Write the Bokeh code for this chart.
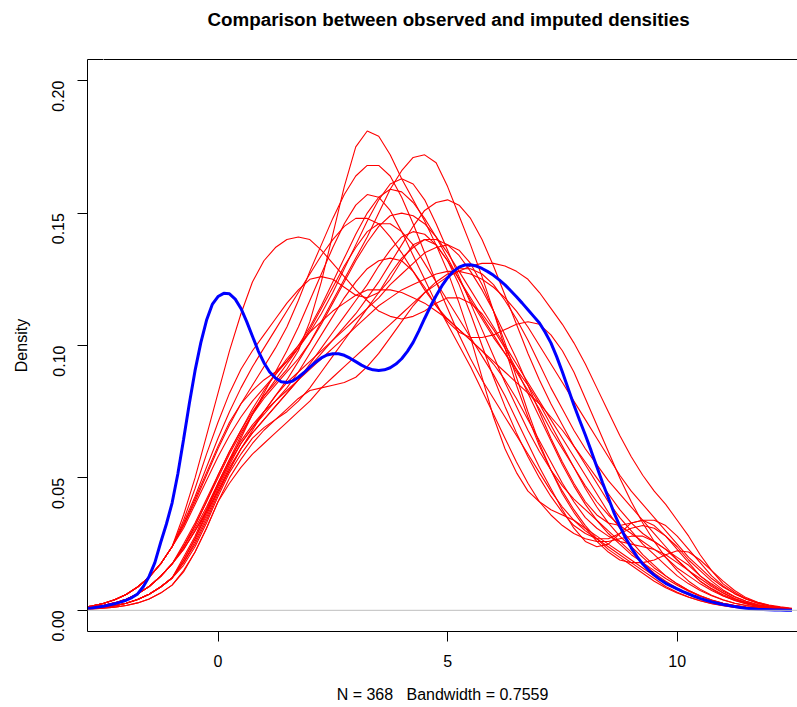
import math
from bokeh.plotting import figure
from bokeh.models import (ColumnDataSource, Span, FixedTicker, LinearAxis,
                          PrintfTickFormatter)
from bokeh.embed import file_html
from bokeh.resources import INLINE

# ---------------- data ----------------
obs_x = [round(-3 + 0.125 * i, 3) for i in range(125)]          # -3 ... 12.5
observed = [0.0005, 0.0007, 0.0009, 0.0012, 0.0015, 0.0020, 0.0025, 0.0031, 0.0038, 0.0048,
            0.0062, 0.0090, 0.0128, 0.0180, 0.0255, 0.0325, 0.0405, 0.0515, 0.0645, 0.0780,
            0.0905, 0.1010, 0.1095, 0.1155, 0.1185, 0.1197, 0.1195, 0.1175, 0.1140, 0.1090,
            0.1035, 0.0980, 0.0935, 0.0900, 0.0877, 0.0863, 0.0860, 0.0866, 0.0880, 0.0898,
            0.0918, 0.0937, 0.0953, 0.0964, 0.0969, 0.0969, 0.0963, 0.0952, 0.0939, 0.0926,
            0.0915, 0.0908, 0.0906, 0.0908, 0.0916, 0.0930, 0.0950, 0.0978, 0.1012, 0.1055,
            0.1102, 0.1147, 0.1188, 0.1225, 0.1256, 0.1280, 0.1296, 0.1304, 0.1305, 0.1300,
            0.1291, 0.1279, 0.1265, 0.1248, 0.1229, 0.1207, 0.1184, 0.1160, 0.1135, 0.1110,
            0.1085, 0.1050, 0.1010, 0.0958, 0.0900, 0.0838, 0.0775, 0.0718, 0.0662, 0.0603,
            0.0542, 0.0482, 0.0425, 0.0368, 0.0318, 0.0274, 0.0236, 0.0203, 0.0175, 0.0152,
            0.0133, 0.0116, 0.0102, 0.0091, 0.0081, 0.0071, 0.0062, 0.0053, 0.0045, 0.0038,
            0.0032, 0.0027, 0.0022, 0.0018, 0.0014, 0.0011, 0.0008, 0.0006, 0.0004, 0.0003,
            0.0002, 0.0001, 0.0001, 0.0000, 0.0000]

x_grid = [round(-3 + 0.25 * i, 2) for i in range(63)]           # -3 ... 12.5
imp_01 = [0.0007, 0.0011, 0.0018, 0.0028, 0.0042, 0.0062, 0.0090, 0.0128, 0.0175,
          0.024, 0.032, 0.041, 0.051, 0.060, 0.068, 0.075, 0.081, 0.086, 0.091, 0.098, 0.109,
          0.124, 0.142, 0.160, 0.175, 0.181, 0.179, 0.172, 0.163, 0.155, 0.147, 0.138, 0.128,
          0.116, 0.103, 0.088, 0.073, 0.061, 0.052, 0.045, 0.041, 0.038, 0.036, 0.034, 0.031,
          0.028, 0.025, 0.022, 0.019, 0.016, 0.013, 0.010, 0.0078, 0.0058,
          0.0042, 0.0030, 0.0021, 0.0014, 0.0009, 0.0006, 0.0004, 0.0002, 0.0001]
imp_02 = [0.0010, 0.0016, 0.0026, 0.0040, 0.0060, 0.0088, 0.0125, 0.0175, 0.0240,
          0.032, 0.041, 0.051, 0.061, 0.070, 0.078, 0.085, 0.092, 0.099, 0.107, 0.117, 0.128,
          0.138, 0.148, 0.157, 0.164, 0.168, 0.168, 0.164, 0.156, 0.146, 0.135, 0.124, 0.114,
          0.104, 0.095, 0.087, 0.080, 0.073, 0.066, 0.059, 0.052, 0.045, 0.039, 0.034, 0.030,
          0.027, 0.024, 0.021, 0.018, 0.015, 0.012, 0.009, 0.0068, 0.0050,
          0.0036, 0.0025, 0.0017, 0.0011, 0.0007, 0.0004, 0.0003, 0.0002, 0.0001]
imp_03 = [0.0004, 0.0007, 0.0011, 0.0017, 0.0027, 0.0041, 0.0061, 0.0088, 0.0122,
          0.019, 0.027, 0.036, 0.046, 0.055, 0.063, 0.069, 0.075, 0.081, 0.087, 0.094, 0.101,
          0.109, 0.117, 0.125, 0.133, 0.141, 0.150, 0.159, 0.166, 0.171, 0.172, 0.169, 0.160,
          0.149, 0.138, 0.126, 0.113, 0.099, 0.085, 0.073, 0.062, 0.053, 0.045, 0.038, 0.032,
          0.027, 0.023, 0.020, 0.017, 0.014, 0.011, 0.0085, 0.0065, 0.0049,
          0.0036, 0.0026, 0.0018, 0.0012, 0.0008, 0.0005, 0.0003, 0.0002, 0.0001]
imp_04 = [0.0007, 0.0011, 0.0018, 0.0028, 0.0042, 0.0062, 0.0090, 0.0128, 0.0175,
          0.024, 0.031, 0.039, 0.048, 0.057, 0.066, 0.074, 0.081, 0.087, 0.093, 0.099, 0.105,
          0.112, 0.120, 0.129, 0.138, 0.147, 0.155, 0.161, 0.163, 0.161, 0.155, 0.146, 0.136,
          0.126, 0.116, 0.106, 0.096, 0.086, 0.077, 0.068, 0.060, 0.053, 0.047, 0.042, 0.038,
          0.034, 0.030, 0.026, 0.022, 0.018, 0.014, 0.011, 0.0083, 0.0062,
          0.0045, 0.0032, 0.0022, 0.0015, 0.0010, 0.0006, 0.0004, 0.0002, 0.0001]
imp_05 = [0.0010, 0.0016, 0.0026, 0.0040, 0.0060, 0.0088, 0.0125, 0.0175, 0.0240,
          0.031, 0.040, 0.049, 0.058, 0.066, 0.073, 0.079, 0.084, 0.089, 0.094, 0.100, 0.107,
          0.115, 0.124, 0.133, 0.142, 0.150, 0.156, 0.159, 0.158, 0.154, 0.148, 0.141, 0.133,
          0.125, 0.117, 0.110, 0.103, 0.097, 0.091, 0.085, 0.078, 0.070, 0.062, 0.054, 0.046,
          0.039, 0.033, 0.028, 0.024, 0.020, 0.016, 0.013, 0.010, 0.0075,
          0.0055, 0.0039, 0.0027, 0.0018, 0.0012, 0.0008, 0.0005, 0.0003, 0.0002]
imp_06 = [0.0007, 0.0011, 0.0018, 0.0028, 0.0042, 0.0062, 0.0090, 0.0128, 0.0175,
          0.023, 0.030, 0.038, 0.047, 0.056, 0.065, 0.074, 0.082, 0.090, 0.098, 0.107, 0.117,
          0.127, 0.137, 0.146, 0.153, 0.157, 0.156, 0.151, 0.143, 0.134, 0.125, 0.116, 0.108,
          0.100, 0.092, 0.083, 0.074, 0.065, 0.056, 0.048, 0.041, 0.036, 0.032, 0.029, 0.027,
          0.026, 0.026, 0.027, 0.028, 0.028, 0.026, 0.023, 0.019, 0.015,
          0.011, 0.0080, 0.0055, 0.0037, 0.0024, 0.0015, 0.0009, 0.0005, 0.0003]
imp_07 = [0.0004, 0.0007, 0.0011, 0.0017, 0.0027, 0.0041, 0.0061, 0.0088, 0.0122,
          0.018, 0.026, 0.035, 0.045, 0.054, 0.061, 0.067, 0.072, 0.077, 0.082, 0.087, 0.092,
          0.097, 0.102, 0.107, 0.112, 0.118, 0.124, 0.131, 0.138, 0.145, 0.151, 0.154, 0.155,
          0.153, 0.148, 0.140, 0.130, 0.119, 0.108, 0.097, 0.087, 0.078, 0.070, 0.062, 0.055,
          0.048, 0.041, 0.035, 0.030, 0.025, 0.021, 0.017, 0.013, 0.010,
          0.0075, 0.0055, 0.0039, 0.0027, 0.0018, 0.0012, 0.0008, 0.0005, 0.0003]
imp_08 = [0.0007, 0.0011, 0.0018, 0.0028, 0.0042, 0.0062, 0.0090, 0.0128, 0.0175,
          0.024, 0.032, 0.041, 0.050, 0.059, 0.067, 0.074, 0.080, 0.085, 0.090, 0.095, 0.101,
          0.108, 0.116, 0.124, 0.132, 0.139, 0.145, 0.149, 0.150, 0.149, 0.146, 0.141, 0.135,
          0.128, 0.121, 0.114, 0.107, 0.100, 0.093, 0.086, 0.079, 0.072, 0.065, 0.058, 0.051,
          0.044, 0.037, 0.031, 0.026, 0.021, 0.017, 0.013, 0.010, 0.0075,
          0.0055, 0.0039, 0.0027, 0.0018, 0.0012, 0.0008, 0.0005, 0.0003, 0.0002]
imp_09 = [0.0010, 0.0016, 0.0026, 0.0040, 0.0060, 0.0088, 0.0125, 0.0175, 0.0240,
          0.032, 0.042, 0.052, 0.062, 0.071, 0.078, 0.083, 0.087, 0.090, 0.094, 0.099, 0.106,
          0.114, 0.122, 0.130, 0.137, 0.143, 0.146, 0.146, 0.143, 0.138, 0.131, 0.124, 0.117,
          0.110, 0.103, 0.096, 0.089, 0.081, 0.072, 0.063, 0.054, 0.046, 0.038, 0.031, 0.026,
          0.024, 0.025, 0.029, 0.033, 0.034, 0.032, 0.028, 0.023, 0.018,
          0.013, 0.0095, 0.0066, 0.0044, 0.0028, 0.0017, 0.0010, 0.0006, 0.0003]
imp_10 = [0.0004, 0.0007, 0.0011, 0.0017, 0.0027, 0.0041, 0.0061, 0.0088, 0.0122,
          0.018, 0.025, 0.034, 0.044, 0.053, 0.061, 0.067, 0.072, 0.077, 0.082, 0.087, 0.093,
          0.099, 0.105, 0.111, 0.117, 0.123, 0.130, 0.136, 0.141, 0.143, 0.142, 0.138, 0.132,
          0.125, 0.118, 0.111, 0.104, 0.097, 0.090, 0.083, 0.076, 0.068, 0.061, 0.054, 0.047,
          0.041, 0.036, 0.032, 0.029, 0.026, 0.023, 0.020, 0.016, 0.013,
          0.010, 0.0075, 0.0054, 0.0038, 0.0026, 0.0017, 0.0011, 0.0007, 0.0004]
imp_11 = [0.0010, 0.0016, 0.0026, 0.0040, 0.0060, 0.0088, 0.0125, 0.0175, 0.0240,
          0.036, 0.050, 0.066, 0.082, 0.098, 0.112, 0.124, 0.132, 0.137, 0.140, 0.141, 0.140,
          0.136, 0.131, 0.126, 0.121, 0.117, 0.113, 0.111, 0.110, 0.111, 0.113, 0.116, 0.118,
          0.118, 0.116, 0.112, 0.106, 0.099, 0.091, 0.082, 0.073, 0.064, 0.055, 0.047, 0.040,
          0.034, 0.029, 0.025, 0.021, 0.018, 0.015, 0.012, 0.0095, 0.0072,
          0.0053, 0.0038, 0.0026, 0.0018, 0.0012, 0.0008, 0.0005, 0.0003, 0.0002]
imp_12 = [0.0003, 0.0005, 0.0008, 0.0012, 0.0018, 0.0028, 0.0043, 0.0065, 0.0095,
          0.015, 0.022, 0.031, 0.041, 0.048, 0.054, 0.059, 0.063, 0.067, 0.071, 0.075, 0.079,
          0.084, 0.088, 0.092, 0.096, 0.100, 0.104, 0.108, 0.112, 0.116, 0.120, 0.123, 0.126,
          0.128, 0.130, 0.131, 0.131, 0.130, 0.128, 0.125, 0.120, 0.114, 0.108, 0.101, 0.093,
          0.084, 0.075, 0.066, 0.058, 0.051, 0.045, 0.040, 0.034, 0.028,
          0.021, 0.015, 0.010, 0.0068, 0.0044, 0.0028, 0.0017, 0.0010, 0.0006]
imp_13 = [0.0007, 0.0011, 0.0018, 0.0028, 0.0042, 0.0062, 0.0090, 0.0128, 0.0175,
          0.025, 0.033, 0.042, 0.051, 0.060, 0.068, 0.076, 0.083, 0.089, 0.095, 0.100, 0.105,
          0.109, 0.113, 0.116, 0.119, 0.121, 0.121, 0.121, 0.120, 0.118, 0.116, 0.113, 0.110,
          0.106, 0.102, 0.098, 0.094, 0.090, 0.086, 0.082, 0.078, 0.073, 0.068, 0.062, 0.056,
          0.050, 0.044, 0.038, 0.033, 0.029, 0.026, 0.023, 0.020, 0.017,
          0.013, 0.010, 0.0072, 0.0050, 0.0034, 0.0022, 0.0014, 0.0009, 0.0005]
imp_14 = [0.0004, 0.0007, 0.0011, 0.0017, 0.0027, 0.0041, 0.0061, 0.0088, 0.0122,
          0.019, 0.027, 0.037, 0.047, 0.056, 0.063, 0.069, 0.074, 0.079, 0.084, 0.090, 0.097,
          0.104, 0.111, 0.118, 0.124, 0.129, 0.132, 0.133, 0.132, 0.128, 0.122, 0.115, 0.109,
          0.105, 0.103, 0.103, 0.104, 0.106, 0.108, 0.109, 0.108, 0.104, 0.098, 0.090, 0.080,
          0.070, 0.060, 0.050, 0.041, 0.033, 0.026, 0.020, 0.015, 0.011,
          0.0080, 0.0057, 0.0040, 0.0027, 0.0018, 0.0012, 0.0008, 0.0005, 0.0003]
imp_15 = [0.0004, 0.0007, 0.0011, 0.0017, 0.0027, 0.0041, 0.0061, 0.0088, 0.0122,
          0.017, 0.024, 0.033, 0.043, 0.052, 0.059, 0.065, 0.069, 0.072, 0.075, 0.079, 0.084,
          0.090, 0.096, 0.102, 0.108, 0.114, 0.120, 0.127, 0.133, 0.137, 0.140, 0.140, 0.138,
          0.134, 0.128, 0.121, 0.113, 0.104, 0.095, 0.085, 0.075, 0.065, 0.056, 0.048, 0.041,
          0.036, 0.033, 0.032, 0.033, 0.034, 0.034, 0.032, 0.028, 0.023,
          0.018, 0.013, 0.0092, 0.0063, 0.0042, 0.0027, 0.0017, 0.0010, 0.0006]
imp_16 = [0.0007, 0.0011, 0.0018, 0.0028, 0.0042, 0.0062, 0.0090, 0.0128, 0.0175,
          0.023, 0.030, 0.037, 0.045, 0.053, 0.061, 0.068, 0.075, 0.081, 0.086, 0.090, 0.094,
          0.098, 0.102, 0.106, 0.110, 0.114, 0.118, 0.123, 0.127, 0.131, 0.135, 0.137, 0.138,
          0.136, 0.131, 0.123, 0.113, 0.101, 0.088, 0.075, 0.063, 0.053, 0.044, 0.037, 0.031,
          0.026, 0.022, 0.019, 0.018, 0.018, 0.019, 0.021, 0.0225, 0.022,
          0.019, 0.015, 0.011, 0.0075, 0.0048, 0.0030, 0.0018, 0.0010, 0.0006]
imp_17 = [0.0003, 0.0005, 0.0008, 0.0012, 0.0018, 0.0028, 0.0043, 0.0065, 0.0095,
          0.0145, 0.022, 0.031, 0.041, 0.050, 0.057, 0.063, 0.068, 0.072, 0.076, 0.080, 0.083,
          0.084, 0.085, 0.086, 0.088, 0.092, 0.097, 0.103, 0.109, 0.115, 0.120, 0.124, 0.127,
          0.129, 0.129, 0.127, 0.123, 0.117, 0.110, 0.102, 0.093, 0.084, 0.076, 0.068, 0.061,
          0.055, 0.049, 0.044, 0.039, 0.034, 0.029, 0.024, 0.019, 0.015,
          0.011, 0.0082, 0.0059, 0.0041, 0.0028, 0.0018, 0.0012, 0.0007, 0.0004]
imp_18 = [0.0010, 0.0016, 0.0026, 0.0040, 0.0060, 0.0088, 0.0125, 0.0175, 0.0240,
          0.033, 0.043, 0.054, 0.065, 0.075, 0.084, 0.092, 0.099, 0.106, 0.113, 0.120, 0.127,
          0.134, 0.140, 0.145, 0.148, 0.148, 0.146, 0.141, 0.135, 0.128, 0.121, 0.115, 0.110,
          0.106, 0.102, 0.098, 0.093, 0.087, 0.080, 0.072, 0.064, 0.056, 0.048, 0.041, 0.035,
          0.031, 0.028, 0.026, 0.025, 0.024, 0.023, 0.021, 0.018, 0.015,
          0.012, 0.0090, 0.0065, 0.0045, 0.0030, 0.0019, 0.0012, 0.0007, 0.0004]
imp_19 = [0.0010, 0.0016, 0.0026, 0.0040, 0.0060, 0.0088, 0.0125, 0.0175, 0.0240,
          0.034, 0.046, 0.059, 0.071, 0.082, 0.091, 0.098, 0.104, 0.110, 0.116, 0.121, 0.125,
          0.126, 0.125, 0.122, 0.119, 0.118, 0.120, 0.125, 0.132, 0.138, 0.140, 0.138, 0.132,
          0.123, 0.112, 0.100, 0.088, 0.077, 0.067, 0.058, 0.050, 0.043, 0.037, 0.032, 0.029,
          0.027, 0.027, 0.029, 0.031, 0.032, 0.031, 0.028, 0.024, 0.019,
          0.015, 0.011, 0.0077, 0.0052, 0.0034, 0.0021, 0.0013, 0.0008, 0.0004]
imp_20 = [0.0004, 0.0007, 0.0011, 0.0017, 0.0027, 0.0041, 0.0061, 0.0088, 0.0122,
          0.020, 0.028, 0.038, 0.048, 0.057, 0.064, 0.070, 0.075, 0.079, 0.083, 0.087, 0.091,
          0.095, 0.099, 0.103, 0.107, 0.111, 0.115, 0.118, 0.121, 0.123, 0.125, 0.127, 0.128,
          0.128, 0.127, 0.125, 0.122, 0.118, 0.113, 0.107, 0.100, 0.093, 0.086, 0.079, 0.072,
          0.065, 0.058, 0.051, 0.045, 0.040, 0.035, 0.030, 0.025, 0.020,
          0.016, 0.012, 0.0088, 0.0063, 0.0044, 0.0030, 0.0020, 0.0013, 0.0008]

imputed = [imp_01, imp_02, imp_03, imp_04, imp_05, imp_06, imp_07, imp_08, imp_09, imp_10,
           imp_11, imp_12, imp_13, imp_14, imp_15, imp_16, imp_17, imp_18, imp_19, imp_20]

y_ticks = [0.00, 0.05, 0.10, 0.15, 0.20]
x_ticks = [0, 5, 10]
title_text = "Comparison between observed and imputed densities"
x_label = "N = 368 \u00a0 Bandwidth = 0.7559"
y_label = "Density"

assert len(observed) == len(obs_x), len(observed)
for s in imputed:
    assert len(s) == len(x_grid), len(s)

# ---------------- figure ----------------
FONT = "Liberation Sans"
data = {"x": x_grid}
for i, s in enumerate(imputed):
    data["imp_%02d" % (i + 1)] = s
src = ColumnDataSource(data)
obs_src = ColumnDataSource({"x": obs_x, "observed": observed})

p = figure(width=797, height=707, x_range=(-2.842, 12.62), y_range=(-0.008, 0.208),
           output_backend="svg", toolbar_location=None,
           min_border_left=87, min_border_top=59, min_border_right=0, min_border_bottom=76)
p.outline_line_color = None
p.grid.visible = False
p.background_fill_color = "white"
p.border_fill_color = "white"

p.title.text = title_text
p.title.text_font = FONT
p.title.text_font_size = "18.8px"
p.title.text_font_style = "bold"
p.title.text_color = "black"
p.title.align = "left"
p.title.offset = 120
p.title.vertical_align = "bottom"
p.title.standoff = 8

for ax in (p.xaxis[0], p.yaxis[0]):
    ax.axis_line_color = "black"
    ax.axis_line_width = 1
    ax.major_tick_line_color = "black"
    ax.major_tick_out = 10
    ax.major_tick_in = 0
    ax.minor_tick_line_color = None
    ax.major_label_text_font = FONT
    ax.major_label_text_font_size = "16px"
    ax.major_label_text_color = "black"
    ax.axis_label_text_font = FONT
    ax.axis_label_text_font_size = "16px"
    ax.axis_label_text_font_style = "normal"
    ax.axis_label_text_color = "black"

p.xaxis.ticker = FixedTicker(ticks=x_ticks)
p.xaxis.major_label_standoff = 13
p.xaxis.axis_label = x_label
p.xaxis.axis_label_standoff = 16
p.yaxis.ticker = FixedTicker(ticks=y_ticks)
p.yaxis.formatter = PrintfTickFormatter(format="%.2f")
p.yaxis.major_label_orientation = math.pi / 2
p.yaxis.major_label_standoff = 19
p.yaxis.axis_label = y_label
p.yaxis.axis_label_standoff = 14

# top edge of the box; its (white, invisible) tick keeps the title clear of the box
top = LinearAxis(ticker=FixedTicker(ticks=[-2.5]), axis_line_color="black",
                 major_tick_line_color="white", major_tick_out=26, major_tick_in=0,
                 minor_tick_line_color=None, major_label_standoff=0,
                 major_label_text_font_size="0px", major_label_overrides={-2.5: ""})
p.add_layout(top, "above")

p.add_layout(Span(location=0, dimension="width", line_color="#bebebe", line_width=1))

for i in range(len(imputed)):
    p.line("x", "imp_%02d" % (i + 1), source=src, line_color="red", line_width=1.1)
p.line("x", "observed", source=obs_src, line_color="blue", line_width=3)

open("out.html", "w").write(file_html(p, INLINE))
